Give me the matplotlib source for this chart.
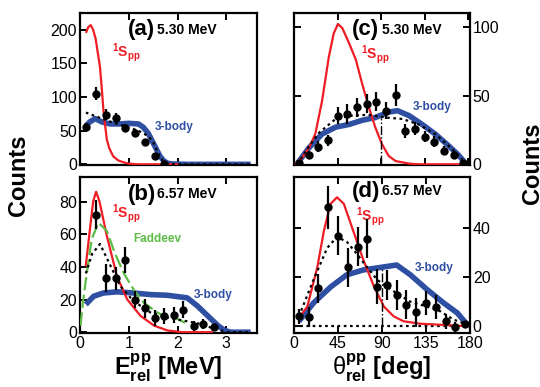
import matplotlib
matplotlib.use("Agg")
import matplotlib.pyplot as plt

plt.rcParams['font.family'] = ['Liberation Sans', 'DejaVu Sans']
plt.rcParams['mathtext.fontset'] = 'custom'
plt.rcParams['mathtext.rm'] = 'Liberation Sans'
plt.rcParams['mathtext.bf'] = 'Liberation Sans:bold'
plt.rcParams['mathtext.it'] = 'Liberation Sans:italic'

RED = '#ee1c24'
BLUE = '#2f4fa3'
GREEN = '#5dbb46'

# ---------------- Panel (a): E_rel, 5.30 MeV ----------------
a_x = [0.12, 0.32, 0.53, 0.73, 0.93, 1.13, 1.33, 1.53, 1.72]
a_y = [55, 105, 74, 69, 54, 47, 33, 13, 1]
a_err = [6, 10, 8, 7, 6, 6, 5, 4, 1]
a_red_x = [0.13, 0.17, 0.22, 0.27, 0.32, 0.36, 0.41, 0.45, 0.48, 0.52, 0.55, 0.60, 0.68, 0.78, 0.89, 1.0, 1.2, 2.0]
a_red_y = [197, 204, 207, 200, 187, 168, 145, 110, 81, 55, 37, 24, 12, 6, 3, 1, 0, 0]
a_blue_x = [0.12, 0.2, 0.31, 0.45, 0.62, 0.8, 1.0, 1.2, 1.3, 1.4, 1.5, 1.57, 1.64, 1.72, 1.8, 1.9, 2.2, 3.5]
a_blue_y = [57, 63, 68, 63, 60, 60, 61, 60, 55, 46, 32, 22, 12, 5, 1.5, 0.5, 0, 0]
a_dot_x = [0.12, 0.3, 0.6, 0.9, 1.2, 1.4, 1.5, 1.55, 1.62, 1.7, 1.8, 1.9, 3.5]
a_dot_y = [77, 72, 64, 57, 50, 42, 33, 25, 14, 5, 1, 0, 0]

# ---------------- Panel (b): E_rel, 6.57 MeV ----------------
b_x = [0.33, 0.54, 0.73, 0.93, 1.12, 1.33, 1.53, 1.72, 1.93, 2.12, 2.33, 2.53, 2.74]
b_y = [72, 33, 33, 44, 20, 14.5, 8.7, 10, 10.5, 13.8, 4, 5, 3]
b_err = [9, 8.5, 7, 8, 5, 6, 5, 5, 5, 5, 3, 3, 2]
b_red_x = [0.12, 0.2, 0.27, 0.33, 0.4, 0.55, 0.76, 0.97, 1.24, 1.52, 1.8, 2.1, 2.7]
b_red_y = [41, 62, 80, 86, 80, 59, 34, 20, 10, 4, 1, 0, 0]
b_green_x = [0.01, 0.06, 0.12, 0.24, 0.38, 0.55, 0.72, 0.9, 1.1, 1.31, 1.59, 1.79, 2.0, 2.14, 2.2]
b_green_y = [4, 18, 32, 57, 67, 62, 48, 36, 26, 18, 12, 9, 8, 6, 5]
b_dot_x = [0.12, 0.25, 0.41, 0.62, 0.83, 1.1, 1.45, 1.79, 2.14, 2.48, 2.76, 3.03, 3.5]
b_dot_y = [36, 48, 54, 41, 28, 19, 12, 9, 7, 5, 2, 0, 0]
b_blue_x = [0.12, 0.28, 0.48, 0.76, 1.1, 1.45, 1.79, 2.2, 2.41, 2.62, 2.83, 2.97, 3.1, 3.5]
b_blue_y = [17, 22, 24, 24.7, 24, 23, 22.6, 21, 16, 10, 4, 1, 0, 0]

# ---------------- Panel (c): theta_rel, 5.30 MeV ----------------
c_x = [5, 15, 25, 35, 45, 55, 65, 75, 85, 95, 105, 115, 125, 135, 145, 155, 165, 175]
c_y = [1, 6.8, 12.7, 17.6, 35.4, 36.6, 41.5, 44, 45.6, 39, 50.7, 24.4, 26, 20, 16.3, 10, 6.8, 1]
c_err = [1, 3, 4, 4, 6, 7, 7, 7, 7, 6, 8, 5, 5, 4, 4, 3, 3, 1]
c_red_x = [2, 8.6, 15.5, 22, 29, 36, 41, 45.4, 50, 57, 64, 70.5, 77.4, 84, 91, 98, 105, 119, 130, 177]
c_red_y = [0.5, 5, 12, 22, 46, 78, 95, 102, 99, 88, 76, 58.5, 41.5, 27, 14.6, 6, 2.4, 0.5, 0, 0]
c_blue_x = [3.4, 15.5, 29, 43, 57, 70.5, 84, 98, 107, 119, 132.5, 146, 160, 170, 177]
c_blue_y = [0.5, 12, 22, 27, 29, 32, 34, 38, 39, 35.4, 29, 22, 13.4, 6.8, 1]
c_dot_x = [3.4, 15.5, 26, 43, 60, 77, 95, 112, 129, 146, 160, 174]
c_dot_y = [0, 13, 23, 33, 35.4, 36, 34, 33, 29, 22, 13.4, 3.7]
c_vline = [0, 34]

# ---------------- Panel (d): theta_rel, 6.57 MeV ----------------
d_x = [5, 15, 25, 35, 45, 55, 65, 75, 85, 95, 105, 115, 125, 135, 145, 155, 165, 175]
d_y = [4, 3.8, 15.5, 48.6, 37, 24, 32.4, 35.8, 16.2, 16.9, 12.8, 8.8, 5.7, 9.5, 7.8, 2, -0.3, 0.7]
d_err = [3, 4, 6, 8.8, 8, 8, 8, 8, 7, 6, 6, 6, 6, 5, 5, 3, 2, 1]
d_red_x = [5, 13.6, 23.8, 30.6, 37.4, 44, 51, 61, 71, 82, 92, 102, 112, 129, 177]
d_red_y = [3.4, 8, 24, 39, 50, 52.7, 50, 38.5, 27, 16, 8, 4, 2, 1, 0]
d_blue_x = [5, 20, 37.4, 54, 71, 88, 105, 119, 136, 153, 167, 177]
d_blue_y = [2, 9.5, 16, 21, 23, 24, 25, 21, 15, 9.5, 5.4, 0.7]
d_dot_x = [5, 20, 34, 44, 54, 64, 75, 85, 95, 105, 119, 136, 150, 163, 177]
d_dot_y = [4, 19, 32, 36.5, 34.5, 29.7, 24, 19, 16, 13.5, 10, 8, 6, 2.7, 0.7]
d_vline = [0, 24]

W, H = 540, 387
fig = plt.figure(figsize=(W / 100, H / 100), dpi=100)

def pos(l, t, r, b):
    return [l / W, 1 - b / H, (r - l) / W, (b - t) / H]

axA = fig.add_axes(pos(80, 13, 257, 165))
axB = fig.add_axes(pos(80, 177, 257, 333))
axC = fig.add_axes(pos(294, 13, 470, 165))
axD = fig.add_axes(pos(294, 177, 470, 333))

def style(ax):
    for s in ax.spines.values():
        s.set_linewidth(1.6)
    ax.tick_params(direction='in', length=5, width=1.4, top=True, right=True,
                   labelsize=11.5, pad=2)

def points(ax, x, y, e):
    ax.errorbar(x, y, yerr=e, fmt='o', color='black', ms=5, elinewidth=1.6,
                capsize=0, zorder=5)

lab = dict(fontsize=8.5, fontweight='bold')
spp = r"$^{\mathbf{1}}\mathbf{S}_{\mathbf{pp}}$"
PL = dict(fontsize=16, fontweight='bold', va='center')
EN = dict(fontsize=10, fontweight='bold', va='center')

# (a)
ax = axA
style(ax)
ax.plot(a_blue_x, a_blue_y, color=BLUE, lw=4, zorder=2, solid_capstyle='butt')
ax.plot(a_red_x, a_red_y, color=RED, lw=1.6, zorder=3)
ax.plot(a_dot_x, a_dot_y, color='black', lw=1.6, ls=(0, (1.2, 1.6)), zorder=4)
points(ax, a_x, a_y, a_err)
ax.set_xlim(0, 3.63)
ax.set_ylim(-1, 225)
ax.set_xticks([0, 1, 2, 3])
ax.set_xticklabels([])
ax.set_yticks([0, 50, 100, 150, 200])
ax.tick_params(axis='y', right=False)
ax.text(0.27, 0.89, "(a)", transform=ax.transAxes, **PL)
ax.text(0.435, 0.89, "5.30 MeV", transform=ax.transAxes, **EN)
ax.text(0.66, 160, spp, color=RED, fontsize=10)
ax.text(1.54, 55, "3-body", color=BLUE, va='center', **lab)

# (b)
ax = axB
style(ax)
ax.plot(b_blue_x, b_blue_y, color=BLUE, lw=4, zorder=2, solid_capstyle='butt')
ax.plot(b_red_x, b_red_y, color=RED, lw=1.6, zorder=3)
ax.plot(b_green_x, b_green_y, color=GREEN, lw=1.6, ls=(0, (6, 2)), zorder=3)
ax.plot(b_dot_x, b_dot_y, color='black', lw=1.6, ls=(0, (1.2, 1.6)), zorder=4)
points(ax, b_x, b_y, b_err)
ax.set_xlim(0, 3.63)
ax.set_ylim(-0.5, 95)
ax.set_xticks([0, 1, 2, 3])
ax.set_yticks([0, 20, 40, 60, 80])
ax.tick_params(axis='y', right=False)
ax.text(0.27, 0.89, "(b)", transform=ax.transAxes, **PL)
ax.text(0.435, 0.89, "6.57 MeV", transform=ax.transAxes, **EN)
ax.text(0.66, 70, spp, color=RED, fontsize=10)
ax.text(1.1, 57, "Faddeev", color=GREEN, va='center', **lab)
ax.text(2.33, 23, "3-body", color=BLUE, va='center', **lab)
ax.set_xlabel(r"$\mathbf{E}_{\mathbf{rel}}^{\mathbf{pp}}$ [MeV]", fontsize=17,
              fontweight='bold', labelpad=1)

# (c)
ax = axC
style(ax)
ax.plot(c_blue_x, c_blue_y, color=BLUE, lw=4, zorder=2, solid_capstyle='butt')
ax.plot(c_red_x, c_red_y, color=RED, lw=1.6, zorder=3)
ax.plot(c_dot_x, c_dot_y, color='black', lw=1.6, ls=(0, (1.2, 1.6)), zorder=4)
ax.plot([90, 90], c_vline, color='black', lw=1.0, ls='-.', zorder=3)
points(ax, c_x, c_y, c_err)
ax.set_xlim(0, 182)
ax.set_ylim(-0.5, 110)
ax.set_xticks([0, 45, 90, 135, 180])
ax.set_xticklabels([])
ax.set_yticks([0, 50, 100])
ax.tick_params(axis='y', labelleft=False, labelright=True)
ax.text(0.33, 0.89, "(c)", transform=ax.transAxes, **PL)
ax.text(0.50, 0.89, "5.30 MeV", transform=ax.transAxes, **EN)
ax.text(69, 77, spp, color=RED, fontsize=10)
ax.text(123, 41.5, "3-body", color=BLUE, va='center', **lab)

# (d)
ax = axD
style(ax)
ax.plot([0, 180], [0, 0], color='black', lw=1.6, ls=(0, (1.2, 1.6)), zorder=1)
ax.plot(d_blue_x, d_blue_y, color=BLUE, lw=4, zorder=2, solid_capstyle='butt')
ax.plot(d_red_x, d_red_y, color=RED, lw=1.6, zorder=3)
ax.plot(d_dot_x, d_dot_y, color='black', lw=1.6, ls=(0, (1.2, 1.6)), zorder=4)
ax.plot([90, 90], d_vline, color='black', lw=1.0, ls='-.', zorder=3)
points(ax, d_x, d_y, d_err)
ax.set_xlim(0, 180)
ax.set_ylim(-2.8, 61)
ax.set_xticks([0, 45, 90, 135, 180])
ax.set_yticks([0, 20, 40])
ax.tick_params(axis='y', labelleft=False, labelright=True)
ax.text(0.33, 0.91, "(d)", transform=ax.transAxes, **PL)
ax.text(0.50, 0.91, "6.57 MeV", transform=ax.transAxes, **EN)
ax.text(63, 43, spp, color=RED, fontsize=10)
ax.text(123, 23.6, "3-body", color=BLUE, va='center', **lab)
ax.set_xlabel(r"$\mathrm{\theta}_{\mathbf{rel}}^{\mathbf{pp}}$ [deg]", fontsize=17,
              fontweight='bold', labelpad=1)

fig.text(19 / W, 1 - 175 / H, "Counts", rotation=90, fontsize=17, fontweight='bold',
         ha='center', va='center')
# second y-label, partly cut off by the right figure edge as in the reference
fig.text(533 / W, 1 - 163 / H, "Counts", rotation=90, fontsize=17, fontweight='bold',
         ha='center', va='center')

fig.savefig("out.png", dpi=100)
